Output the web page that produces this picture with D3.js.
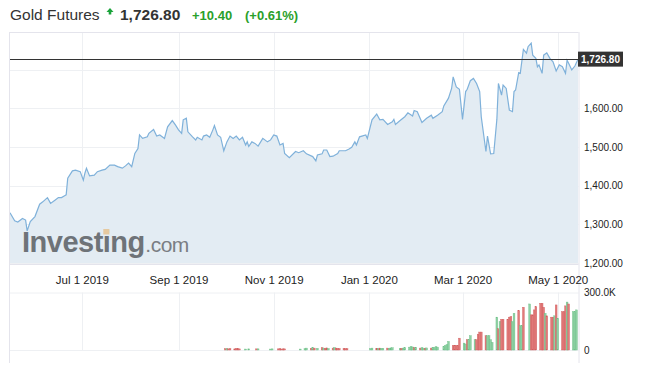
<!DOCTYPE html>
<html><head><meta charset="utf-8">
<script src="https://cdn.jsdelivr.net/npm/d3@7"></script>
<style>
html,body{margin:0;padding:0;background:#fff;}
svg{display:block;font-family:"Liberation Sans",Arial,Helvetica,sans-serif;}
</style></head>
<body>
<svg id="c" width="646" height="367"></svg>
<script>
// ---- data ----
const priceDates = ["2019-05-16","2019-05-19","2019-05-21","2019-05-24","2019-05-26","2019-05-27","2019-05-29","2019-06-01","2019-06-04","2019-06-06",
"2019-06-09","2019-06-11","2019-06-14","2019-06-16","2019-06-18","2019-06-20","2019-06-21","2019-06-22","2019-06-25","2019-06-27",
"2019-06-30","2019-07-02","2019-07-03","2019-07-04","2019-07-06","2019-07-09","2019-07-11","2019-07-14","2019-07-16","2019-07-19",
"2019-07-22","2019-07-24","2019-07-27","2019-07-29","2019-07-31","2019-08-02","2019-08-04","2019-08-06","2019-08-07","2019-08-09",
"2019-08-12","2019-08-13","2019-08-16","2019-08-18","2019-08-20","2019-08-23","2019-08-25","2019-08-28","2019-08-30","2019-09-01",
"2019-09-03","2019-09-04","2019-09-06","2019-09-07","2019-09-10","2019-09-12","2019-09-13","2019-09-16","2019-09-17","2019-09-19",
"2019-09-21","2019-09-23","2019-09-24","2019-09-26","2019-09-28","2019-09-30","2019-10-02","2019-10-04","2019-10-06","2019-10-08",
"2019-10-10","2019-10-12","2019-10-14","2019-10-15","2019-10-16","2019-10-18","2019-10-20","2019-10-22","2019-10-25","2019-10-28",
"2019-10-30","2019-11-01","2019-11-03","2019-11-05","2019-11-07","2019-11-08","2019-11-11","2019-11-15","2019-11-17","2019-11-20",
"2019-11-22","2019-11-26","2019-11-28","2019-11-29","2019-12-02","2019-12-03","2019-12-05","2019-12-07","2019-12-09","2019-12-12",
"2019-12-13","2019-12-17","2019-12-19","2019-12-21","2019-12-23","2019-12-24","2019-12-26","2019-12-30","2019-12-31","2020-01-03",
"2020-01-06","2020-01-08","2020-01-10","2020-01-13","2020-01-16","2020-01-17","2020-01-18","2020-01-21","2020-01-24","2020-01-26",
"2020-01-29","2020-01-30","2020-02-01","2020-02-04","2020-02-07","2020-02-10","2020-02-11","2020-02-14","2020-02-17","2020-02-18",
"2020-02-21","2020-02-23","2020-02-24","2020-02-26","2020-02-28","2020-03-01","2020-03-03","2020-03-04","2020-03-06","2020-03-08",
"2020-03-10","2020-03-12","2020-03-13","2020-03-16","2020-03-17","2020-03-19","2020-03-21","2020-03-23","2020-03-24","2020-03-26",
"2020-03-27","2020-03-29","2020-03-31","2020-04-02","2020-04-03","2020-04-04","2020-04-06","2020-04-07","2020-04-09","2020-04-11",
"2020-04-12","2020-04-14","2020-04-15","2020-04-17","2020-04-18","2020-04-19","2020-04-21","2020-04-22","2020-04-24","2020-04-26",
"2020-04-28","2020-04-30","2020-05-02","2020-05-04","2020-05-06","2020-05-07","2020-05-08","2020-05-10","2020-05-12","2020-05-14"];
const priceValues = [1330,1309,1306,1315,1311,1283,1307,1320,1352,1358,
1369,1354,1363,1369,1369,1374,1376,1419,1438,1440,
1436,1414,1432,1445,1425,1427,1436,1440,1442,1453,
1453,1449,1445,1451,1458,1449,1483,1496,1531,1522,
1526,1535,1545,1528,1531,1522,1552,1568,1557,1544,
1535,1570,1574,1539,1526,1518,1525,1518,1528,1531,
1525,1544,1555,1531,1525,1490,1513,1528,1522,1528,
1518,1525,1505,1513,1501,1513,1509,1502,1522,1513,
1518,1531,1528,1505,1509,1483,1472,1488,1485,1490,
1482,1475,1464,1479,1482,1492,1492,1475,1476,1483,
1490,1490,1494,1499,1513,1505,1526,1531,1522,1570,
1585,1570,1571,1558,1565,1571,1558,1568,1578,1588,
1580,1594,1591,1563,1574,1582,1574,1582,1591,1606,
1626,1651,1681,1655,1649,1571,1643,1649,1671,1677,
1664,1643,1578,1488,1528,1482,1483,1571,1664,1634,
1660,1651,1595,1591,1643,1647,1692,1690,1752,1742,
1759,1768,1737,1729,1707,1712,1690,1737,1743,1729,
1720,1696,1712,1707,1690,1724,1716,1699,1709,1726.8];
const lastPrice = 1726.80;

const volDates = ["2019-10-01","2019-10-02","2019-10-03","2019-10-04","2019-10-07","2019-10-08","2019-10-09","2019-10-10","2019-10-14","2019-10-16",
"2019-10-21","2019-10-22","2019-10-30","2019-10-31","2019-11-04","2019-11-05","2019-11-06","2019-11-07","2019-11-08","2019-11-18",
"2019-11-21","2019-11-22","2019-11-25","2019-11-26","2019-11-27","2019-11-29","2019-12-02","2019-12-03","2019-12-04","2019-12-05",
"2019-12-06","2019-12-09","2019-12-10","2019-12-11","2019-12-12","2019-12-13","2019-12-16","2019-12-17","2019-12-18",
"2020-01-02","2020-01-03","2020-01-06","2020-01-07","2020-01-08","2020-01-09","2020-01-10","2020-01-13","2020-01-14","2020-01-15","2020-01-16",
"2020-01-21","2020-01-22","2020-01-23","2020-01-24","2020-01-27","2020-01-28","2020-01-29","2020-01-30","2020-01-31","2020-02-03",
"2020-02-04","2020-02-05","2020-02-06","2020-02-07","2020-02-10","2020-02-11","2020-02-12","2020-02-13","2020-02-14",
"2020-02-18","2020-02-19","2020-02-20","2020-02-21","2020-02-24","2020-02-25","2020-02-26","2020-02-27","2020-02-28",
"2020-03-02","2020-03-03","2020-03-04","2020-03-05","2020-03-06","2020-03-09","2020-03-10","2020-03-11","2020-03-12","2020-03-13",
"2020-03-16","2020-03-17","2020-03-18","2020-03-19","2020-03-20","2020-03-23","2020-03-24","2020-03-25","2020-03-26","2020-03-27",
"2020-03-30","2020-03-31","2020-04-01","2020-04-02","2020-04-03","2020-04-06","2020-04-07","2020-04-08","2020-04-09",
"2020-04-13","2020-04-14","2020-04-15","2020-04-16","2020-04-17","2020-04-20","2020-04-21","2020-04-22","2020-04-23","2020-04-24",
"2020-04-27","2020-04-28","2020-04-29","2020-04-30","2020-05-01","2020-05-04","2020-05-05","2020-05-06","2020-05-07","2020-05-08",
"2020-05-11","2020-05-12","2020-05-13"];
const volValues = [7,7,6,7,6,8,7,6,5,6,
6,6,5,6,6,7,5,6,6,5,
7,10,9,12,10,9,12,10,9,11,
8,10,13,10,9,8,9,8,7,
8,10,9,8,10,9,8,10,9,11,12,
8,9,10,12,15,18,16,12,14,10,
12,10,9,11,10,12,14,17,15,
17,24,28,45,24,24,24,24,62,
36,31,54,54,75,54,54,83,94,94,
75,75,75,54,40,172,111,149,161,161,
161,172,175,149,192,206,127,127,224,
241,184,184,210,227,245,245,224,192,179,
172,172,179,236,166,201,201,231,251,241,
201,201,210];
const volUp = [0,1,0,0,0,0,0,0,1,1,
0,1,1,1,0,0,0,0,0,1,
1,1,0,1,0,1,0,1,0,0,
1,0,1,0,0,0,0,0,0,
1,1,0,1,0,1,1,0,1,1,1,
1,0,1,1,1,1,1,0,1,0,
1,1,0,1,0,1,1,1,1,
1,1,1,1,0,0,0,0,0,
1,1,0,1,1,1,0,0,0,0,
0,1,1,1,1,1,0,1,0,0,
0,0,0,1,1,0,1,1,0,
1,0,0,0,0,0,0,0,1,0,
0,0,1,0,1,0,0,0,1,0,
1,1,1];

const xTickDates = ["2019-07-01","2019-09-01","2019-11-01","2020-01-01","2020-03-01","2020-05-01"];
const xTickLabels = ["Jul 1 2019","Sep 1 2019","Nov 1 2019","Jan 1 2020","Mar 1 2020","May 1 2020"];
const yTicks = [1200,1300,1400,1500,1600];
const yGrid = [1200,1300,1400,1500,1600,1700];
const volTicks = [0,300];
const volTickLabels = ["0","300.0K"];

// ---- layout ----
const svg = d3.select("#c");
const parse = d3.utcParse("%Y-%m-%d");
const L = 9, R = 578.5, T = 32, PB = 263, VT = 292.5, VB = 350, BB = 363;

const x = d3.scaleUtc().domain([parse("2019-05-16"), parse("2020-05-14")]).range([10, 578]);
const y = d3.scaleLinear().domain([1200, 1700]).range([263, 69.5]);
const yv = d3.scaleLinear().domain([0, 300]).range([350, 292.7]);

// title
svg.append("text").attr("x", 10).attr("y", 20).attr("font-size", 15.5).attr("fill", "#333").text("Gold Futures");
svg.append("path").attr("d", "M110,8 L113.5,12 L111.3,12 L111.3,14.5 L108.7,14.5 L108.7,12 L106.5,12 Z").attr("fill", "#1aa33a");
svg.append("text").attr("x", 120).attr("y", 20).attr("font-size", 15.5).attr("font-weight", "bold").attr("fill", "#333").text("1,726.80");
svg.append("text").attr("x", 192).attr("y", 20).attr("font-size", 13).attr("font-weight", "bold").attr("fill", "#2aa02a").text("+10.40");
svg.append("text").attr("x", 245).attr("y", 20).attr("font-size", 13).attr("font-weight", "bold").attr("fill", "#2aa02a").text("(+0.61%)");

// grid
const grid = svg.append("g").attr("stroke", "#eef0f3").attr("stroke-width", 1);
xTickDates.forEach(d => {
  const gx = Math.round(x(parse(d))) + 0.5;
  grid.append("line").attr("x1", gx).attr("x2", gx).attr("y1", T).attr("y2", PB);
  grid.append("line").attr("x1", gx).attr("x2", gx).attr("y1", VT).attr("y2", VB);
});
yGrid.forEach(v => {
  const gy = Math.round(y(v)) + 0.5;
  grid.append("line").attr("x1", L).attr("x2", R).attr("y1", gy).attr("y2", gy);
});
grid.append("line").attr("x1", L).attr("x2", R).attr("y1", VT + 0.5).attr("y2", VT + 0.5);
grid.append("line").attr("x1", L).attr("x2", R).attr("y1", VB + 0.5).attr("y2", VB + 0.5);

// price area
const pdata = priceDates.map((d, i) => ({ d: parse(d), v: priceValues[i] }));
const area = d3.area().x(p => x(p.d)).y0(y(1200)).y1(p => y(p.v));
const line = d3.line().x(p => x(p.d)).y(p => y(p.v));
svg.append("path").datum(pdata).attr("d", area).attr("fill", "#e3ecf3");

// watermark
const wm = svg.append("g");
const inv = wm.append("text").attr("x", 22).attr("y", 252).attr("font-size", 29).attr("font-weight", "bold")
  .attr("letter-spacing", -0.5).attr("fill", "#6e7378").text("Investing");
const invEnd = 22 + inv.node().getComputedTextLength();
wm.append("text").attr("x", invEnd + 0.5).attr("y", 252).attr("font-size", 21).attr("letter-spacing", -0.5)
  .attr("fill", "#7a7e83").text(".com");
const iStart = inv.node().getStartPositionOfChar(6).x;
const iEnd = inv.node().getEndPositionOfChar(6).x;
wm.append("rect").attr("x", iStart + 0.5).attr("y", 229).attr("width", Math.max(4, iEnd - iStart - 1.5)).attr("height", 5.5).attr("fill", "#e5c9a0");

svg.append("path").datum(pdata).attr("d", line).attr("fill", "none").attr("stroke", "#7fb1da").attr("stroke-width", 1.2);

// last price line
const ly = Math.round(y(lastPrice)) + 0.5;
svg.append("line").attr("x1", L).attr("x2", R).attr("y1", ly).attr("y2", ly).attr("stroke", "#333").attr("stroke-width", 1);

// volume bars
const vdata = volDates.map((d, i) => ({ d: parse(d), v: volValues[i], up: volUp[i] }));
svg.append("g").selectAll("rect").data(vdata).join("rect")
  .attr("x", p => x(p.d) - 0.9).attr("width", 1.8)
  .attr("y", p => yv(p.v)).attr("height", p => yv(0) - yv(p.v))
  .attr("fill", p => p.up ? "#8ed1a4" : "#e27a7a")
  .attr("stroke", p => p.up ? "#6cbf86" : "#d05e5e").attr("stroke-width", 0.4);

// borders
const bd = svg.append("g").attr("stroke", "#e4e4ec").attr("stroke-width", 1);
bd.append("line").attr("x1", L).attr("x2", R).attr("y1", T + 0.5).attr("y2", T + 0.5);
bd.append("line").attr("x1", L + 0.5).attr("x2", L + 0.5).attr("y1", T).attr("y2", BB);
bd.append("line").attr("x1", R + 0.5).attr("x2", R + 0.5).attr("y1", T).attr("y2", BB);
bd.append("line").attr("x1", L).attr("x2", R).attr("y1", PB + 1.5).attr("y2", PB + 1.5);

// x axis
const xAxis = d3.axisBottom(x).tickValues(xTickDates.map(parse))
  .tickFormat((d, i) => xTickLabels[i]).tickSize(0).tickPadding(0);
const gx = svg.append("g").attr("transform", "translate(0,276)").call(xAxis);
gx.select(".domain").remove();
gx.selectAll("text").attr("font-size", 11.5).attr("fill", "#222").attr("font-family", "Liberation Sans, Arial, sans-serif");

// y axis (right)
const yAxis = d3.axisRight(y).tickValues(yTicks).tickFormat(d3.format(",.2f")).tickSize(0).tickPadding(0);
const gy = svg.append("g").attr("transform", "translate(584,0)").call(yAxis);
gy.select(".domain").remove();
gy.selectAll("text").attr("font-size", 10).attr("fill", "#222").attr("font-family", "Liberation Sans, Arial, sans-serif");

// volume axis (right)
const vAxis = d3.axisRight(yv).tickValues(volTicks).tickFormat((d, i) => volTickLabels[i]).tickSize(0).tickPadding(0);
const gvv = svg.append("g").attr("transform", "translate(584,0)").call(vAxis);
gvv.select(".domain").remove();
gvv.selectAll("text").attr("font-size", 10).attr("fill", "#222").attr("font-family", "Liberation Sans, Arial, sans-serif");

// last price tag
svg.append("rect").attr("x", 578).attr("y", y(lastPrice) - 7.5).attr("width", 45).attr("height", 15).attr("fill", "#333");
svg.append("text").attr("x", 600.5).attr("y", y(lastPrice) + 3.5).attr("text-anchor", "middle")
  .attr("font-size", 10).attr("font-weight", "bold").attr("fill", "#fff").text(d3.format(",.2f")(lastPrice));
</script>
</body></html>
